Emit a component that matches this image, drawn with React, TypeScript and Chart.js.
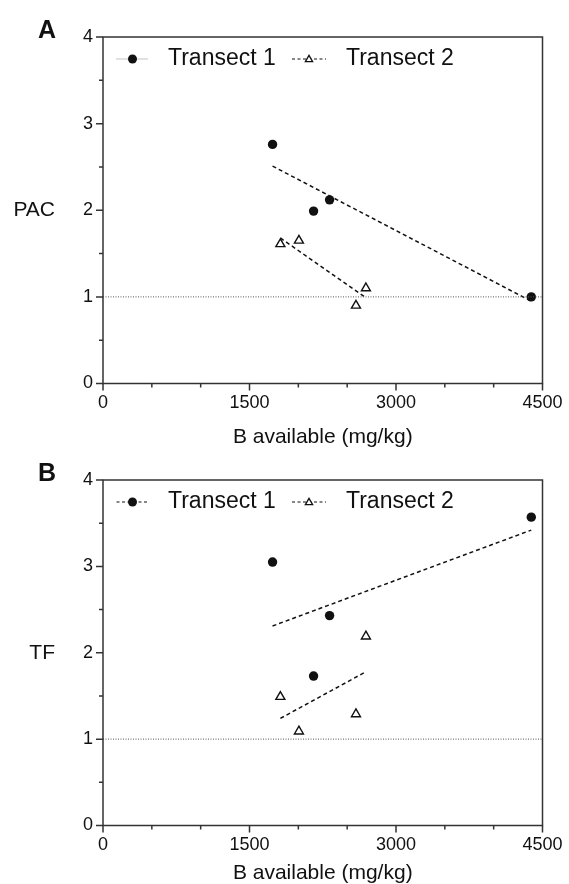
import React, { useEffect, useRef } from "react";
import { Chart, registerables } from "chart.js";

Chart.register(...registerables);

// ---------- data ----------
const xTickLabels = [0, 1500, 3000, 4500];
const yTickLabels = [0, 1, 2, 3, 4];

const transect1X = [1736, 2156, 2320, 4385];
const transect2X = [1816, 2006, 2590, 2692];

const pacTransect1 = [2.76, 1.99, 2.12, 1.0];
const pacTransect2 = [1.61, 1.65, 0.9, 1.1];
const tfTransect1 = [3.05, 1.73, 2.43, 3.57];
const tfTransect2 = [1.49, 1.09, 1.29, 2.19];

const trend1X = [1736, 4385];
const trend2X = [1816, 2692];
const pacTrend1 = [2.51, 0.95];
const pacTrend2 = [1.68, 0.99];
const tfTrend1 = [2.31, 3.42];
const tfTrend2 = [1.24, 1.78];

const thresholdX = [0, 4500];
const thresholdY = [1, 1];

const seriesNames = ["Transect 1", "Transect 2"];
const xTitle = "B available (mg/kg)";

const FONT = '"Liberation Sans", Arial, Helvetica, sans-serif';
const INK = "#111";
const AXIS = "#333";

type PanelCfg = {
  letter: string;
  yLabel: string;
  s1: number[];
  s2: number[];
  t1: number[];
  t2: number[];
  legend1Style: "thin" | "dashed";
  height: number;
  padTop: number;
  xAxisHeight: number;
  titlePadBottom: number;
};

const zip = (xs: number[], ys: number[]) => xs.map((x, i) => ({ x, y: ys[i] }));

function drawTriangle(ctx: CanvasRenderingContext2D, x: number, y: number, r: number) {
  ctx.beginPath();
  for (let k = 0; k < 3; k++) {
    const a = (k * 2 * Math.PI) / 3;
    const px = x + Math.sin(a) * r;
    const py = y - Math.cos(a) * r;
    if (k === 0) ctx.moveTo(px, py);
    else ctx.lineTo(px, py);
  }
  ctx.closePath();
  ctx.fillStyle = "#fff";
  ctx.fill();
  ctx.lineWidth = 1.3;
  ctx.strokeStyle = INK;
  ctx.setLineDash([]);
  ctx.stroke();
}

function makeDecor(cfg: PanelCfg) {
  return {
    id: "decor" + cfg.letter,
    afterDraw(chart: any) {
      const { ctx, chartArea } = chart;
      const { left, right, top, bottom } = chartArea;
      ctx.save();
      // frame
      ctx.setLineDash([]);
      ctx.lineWidth = 1.5;
      ctx.strokeStyle = AXIS;
      ctx.strokeRect(left, top, right - left, bottom - top);

      // tick marks (major longer than minor)
      const xs = chart.scales.x;
      const ys = chart.scales.y;
      ctx.beginPath();
      xs.ticks.forEach((t: any) => {
        const px = xs.getPixelForValue(t.value);
        const len = xTickLabels.includes(t.value) ? 7 : 4;
        ctx.moveTo(px, bottom);
        ctx.lineTo(px, bottom + len);
      });
      ys.ticks.forEach((t: any) => {
        const py = ys.getPixelForValue(t.value);
        const len = yTickLabels.includes(t.value) ? 7 : 4;
        ctx.moveTo(left, py);
        ctx.lineTo(left - len, py);
      });
      ctx.stroke();

      // panel letter
      ctx.fillStyle = INK;
      ctx.font = `bold 25px ${FONT}`;
      ctx.textAlign = "center";
      ctx.textBaseline = "middle";
      ctx.fillText(cfg.letter, 47, top - 6);

      // y label
      ctx.font = `21px ${FONT}`;
      ctx.textAlign = "right";
      ctx.fillText(cfg.yLabel, 55, (top + bottom) / 2);

      // legend
      const ly = top + 22;
      const drawSample = (x1: number, x2: number, style: "thin" | "dashed") => {
        ctx.beginPath();
        ctx.moveTo(x1, ly);
        ctx.lineTo(x2, ly);
        if (style === "thin") {
          ctx.setLineDash([1, 1]);
          ctx.strokeStyle = "#888";
          ctx.lineWidth = 1;
        } else {
          ctx.setLineDash([3, 2.5]);
          ctx.strokeStyle = INK;
          ctx.lineWidth = 1.2;
        }
        ctx.stroke();
        ctx.setLineDash([]);
      };
      drawSample(left + 13.5, left + 45, cfg.legend1Style);
      ctx.beginPath();
      ctx.arc(left + 29.5, ly, 4.5, 0, Math.PI * 2);
      ctx.fillStyle = INK;
      ctx.fill();
      drawSample(left + 189, left + 223, "dashed");
      drawTriangle(ctx, left + 206, ly + 0.5, 4.2);

      ctx.fillStyle = INK;
      ctx.font = `23px ${FONT}`;
      ctx.textAlign = "left";
      ctx.textBaseline = "middle";
      ctx.fillText(seriesNames[0], left + 65, ly);
      ctx.fillText(seriesNames[1], left + 243, ly);
      ctx.restore();
    },
  };
}

function Panel({ cfg, top }: { cfg: PanelCfg; top: number }) {
  const ref = useRef<HTMLCanvasElement>(null);
  useEffect(() => {
    if (!ref.current) return;
    const chart = new Chart(ref.current, {
      type: "scatter",
      data: {
        datasets: [
          {
            data: zip(thresholdX, thresholdY),
            showLine: true,
            pointRadius: 0,
            borderColor: "#555",
            borderWidth: 1,
            borderDash: [1, 1.5],
          },
          {
            data: zip(trend1X, cfg.t1),
            showLine: true,
            pointRadius: 0,
            borderColor: INK,
            borderWidth: 1.5,
            borderDash: [4, 3],
          },
          {
            data: zip(trend2X, cfg.t2),
            showLine: true,
            pointRadius: 0,
            borderColor: INK,
            borderWidth: 1.5,
            borderDash: [4, 3],
          },
          {
            data: zip(transect1X, cfg.s1),
            showLine: false,
            pointStyle: "circle",
            pointRadius: 4.7,
            backgroundColor: INK,
            borderColor: INK,
            borderWidth: 0,
          },
          {
            data: zip(transect2X, cfg.s2),
            showLine: false,
            pointStyle: "triangle",
            pointRadius: 5.2,
            backgroundColor: "#fff",
            borderColor: INK,
            borderWidth: 1.4,
          },
        ],
      },
      options: {
        animation: false,
        responsive: false,
        maintainAspectRatio: false,
        layout: { padding: { top: cfg.padTop, right: 26.5, left: 0, bottom: 0 } },
        plugins: {
          legend: { display: false },
          tooltip: { enabled: false },
          title: { display: false },
        },
        scales: {
          x: {
            type: "linear",
            min: 0,
            max: 4500,
            ticks: {
              stepSize: 500,
              autoSkip: false,
              maxRotation: 0,
              padding: 3,
              color: INK,
              font: { family: FONT, size: 18 },
              callback: (v: any) => (xTickLabels.includes(Number(v)) ? String(v) : ""),
            },
            grid: {
              display: true,
              drawOnChartArea: false,
              drawTicks: true,
              tickLength: 6,
              color: "rgba(0,0,0,0)",
              tickColor: "rgba(0,0,0,0)",
            },
            border: { display: false },
            title: {
              display: true,
              text: xTitle,
              color: INK,
              font: { family: FONT, size: 21, lineHeight: 1 },
              padding: { top: 0, bottom: cfg.titlePadBottom },
            },
            afterFit: (s: any) => {
              s.height = cfg.xAxisHeight;
            },
          },
          y: {
            type: "linear",
            min: 0,
            max: 4,
            ticks: {
              stepSize: 0.5,
              autoSkip: false,
              padding: 10,
              color: INK,
              font: { family: FONT, size: 18 },
              callback: (v: any) => (yTickLabels.includes(Number(v)) ? String(v) : ""),
            },
            grid: { display: false, drawOnChartArea: false, drawTicks: false },
            border: { display: false },
            afterFit: (s: any) => {
              s.width = 103;
            },
          },
        },
      } as any,
      plugins: [makeDecor(cfg)],
    });
    return () => chart.destroy();
  }, [cfg]);
  return (
    <canvas
      ref={ref}
      width={569}
      height={cfg.height}
      style={{ position: "absolute", left: 0, top, width: 569, height: cfg.height, display: "block" }}
    />
  );
}

const panelA: PanelCfg = {
  letter: "A",
  yLabel: "PAC",
  s1: pacTransect1,
  s2: pacTransect2,
  t1: pacTrend1,
  t2: pacTrend2,
  legend1Style: "thin",
  height: 452,
  padTop: 37,
  xAxisHeight: 68.5,
  titlePadBottom: 4.5,
};

const panelB: PanelCfg = {
  letter: "B",
  yLabel: "TF",
  s1: tfTransect1,
  s2: tfTransect2,
  t1: tfTrend1,
  t2: tfTrend2,
  legend1Style: "dashed",
  height: 439,
  padTop: 35,
  xAxisHeight: 58.5,
  titlePadBottom: 0,
};

export default function App() {
  return (
    <div style={{ position: "absolute", left: 0, top: 0, width: 569, height: 884, background: "#fff" }}>
      <Panel cfg={panelA} top={0} />
      <Panel cfg={panelB} top={445} />
    </div>
  );
}
